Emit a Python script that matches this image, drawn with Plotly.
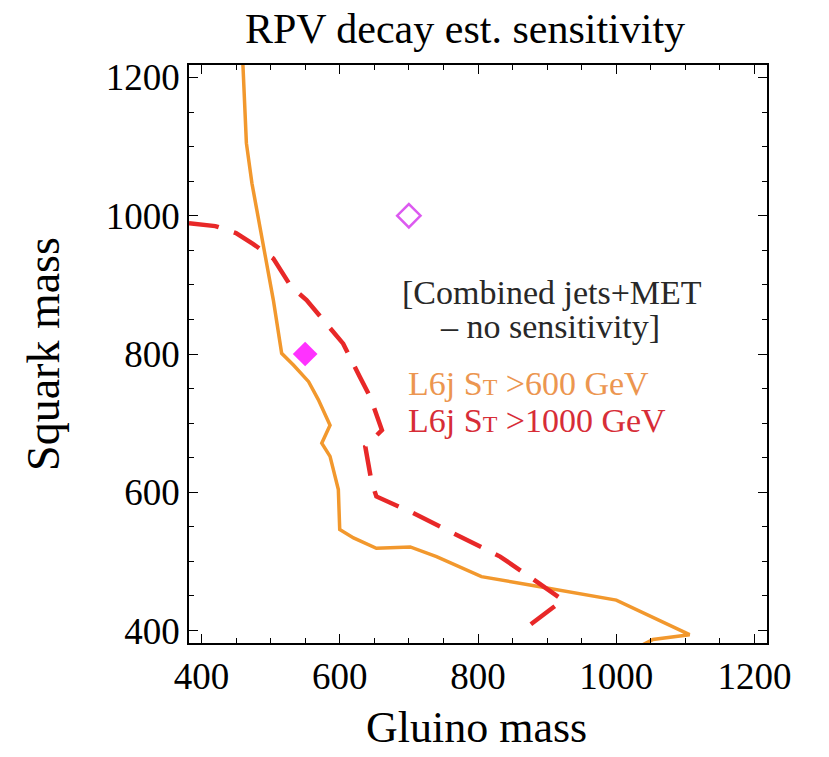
import plotly.graph_objects as go

# Orange: L6j ST > 600 GeV
orange_x = [460, 465, 473, 485, 494, 504, 516, 533, 555, 569, 586, 574, 586, 598, 600, 620, 653, 702, 740, 805, 875, 937, 1000, 1106, 1053, 1020]
orange_y = [1218, 1105, 1047, 984, 936, 878, 801, 784, 760, 734, 697, 671, 652, 604, 546, 534, 519, 521, 507, 478, 466, 455, 444, 394, 387, 370]

# Red dashed: L6j ST > 1000 GeV
red_x = [382, 420, 450, 475, 504, 530, 552, 586, 605, 629, 644, 661, 637, 646, 653, 706, 779, 832, 870, 923, 908, 875, 875]
red_y = [989, 985, 975, 959, 938, 897, 878, 837, 815, 767, 738, 690, 666, 615, 594, 570, 534, 507, 481, 444, 433, 408, 390]

# Benchmark points
filled_pt = ([550], [800])
open_pt = ([700], [1000])

tickvals = [400, 600, 800, 1000, 1200]
serif = "Liberation Serif"

fig = go.Figure()
fig.add_trace(go.Scatter(x=orange_x, y=orange_y, mode="lines",
                         line=dict(color="rgb(242,152,45)", width=3.5), showlegend=False))
fig.add_trace(go.Scatter(x=red_x, y=red_y, mode="lines",
                         line=dict(color="rgb(232,40,40)", width=4.5, dash="30px,16px"), showlegend=False))
fig.add_trace(go.Scatter(x=filled_pt[0], y=filled_pt[1], mode="markers",
                         marker=dict(symbol="diamond", size=19, color="rgb(255,50,255)"), showlegend=False))
fig.add_trace(go.Scatter(x=open_pt[0], y=open_pt[1], mode="markers",
                         marker=dict(symbol="diamond-open", size=18, color="rgb(220,90,240)",
                                     line=dict(width=2.5)), showlegend=False))

axis_common = dict(range=[382, 1218], tickvals=tickvals, ticks="inside", ticklen=9, tickwidth=1.2,
                   tickcolor="black", showline=True, linecolor="black", linewidth=1.5, mirror="ticks",
                   showgrid=False, zeroline=False,
                   minor=dict(ticks="inside", dtick=50, ticklen=5, tickwidth=1, tickcolor="black"),
                   tickfont=dict(family=serif, size=37, color="black"))

fig.update_layout(
    width=829, height=757,
    margin=dict(l=189, r=62, t=65, b=114),
    paper_bgcolor="white", plot_bgcolor="white",
    title=dict(text="RPV decay est. sensitivity", x=465 / 829, xanchor="center", y=1 - 28 / 757, yanchor="middle",
               font=dict(family=serif, size=42, color="black")),
    xaxis=dict(**axis_common),
    yaxis=dict(**axis_common, title=dict(text="Squark mass", font=dict(family=serif, size=46, color="black"),
                                         standoff=32)),
    annotations=[
        dict(x=476, y=727, xref="paper", yref="paper", text="Gluino mass", showarrow=False,
             font=dict(family=serif, size=44, color="black"), xanchor="center", yanchor="middle"),
        dict(x=400, y=292, xref="paper", yref="paper", text="[Combined jets+MET", showarrow=False,
             font=dict(family=serif, size=34, color="rgb(40,40,40)"), xanchor="left", yanchor="middle"),
        dict(x=438, y=327, xref="paper", yref="paper", text="– no sensitivity]", showarrow=False,
             font=dict(family=serif, size=34, color="rgb(40,40,40)"), xanchor="left", yanchor="middle"),
        dict(x=406, y=383, xref="paper", yref="paper",
             text="L6j S<span style='font-size:24px'>T</span> &gt;600 GeV", showarrow=False,
             font=dict(family=serif, size=34, color="rgb(236,150,80)"), xanchor="left", yanchor="middle"),
        dict(x=406, y=420, xref="paper", yref="paper",
             text="L6j S<span style='font-size:24px'>T</span> &gt;1000 GeV", showarrow=False,
             font=dict(family=serif, size=34, color="rgb(215,45,55)"), xanchor="left", yanchor="middle"),
    ],
)

# convert pixel positions of annotations to paper coordinates
L, R, T, B = 189, 767, 65, 643
for a in fig.layout.annotations:
    px, py = a.x, a.y
    a.x = (px - L) / (R - L)
    a.y = (B - py) / (B - T)

fig.write_html("out.html")
